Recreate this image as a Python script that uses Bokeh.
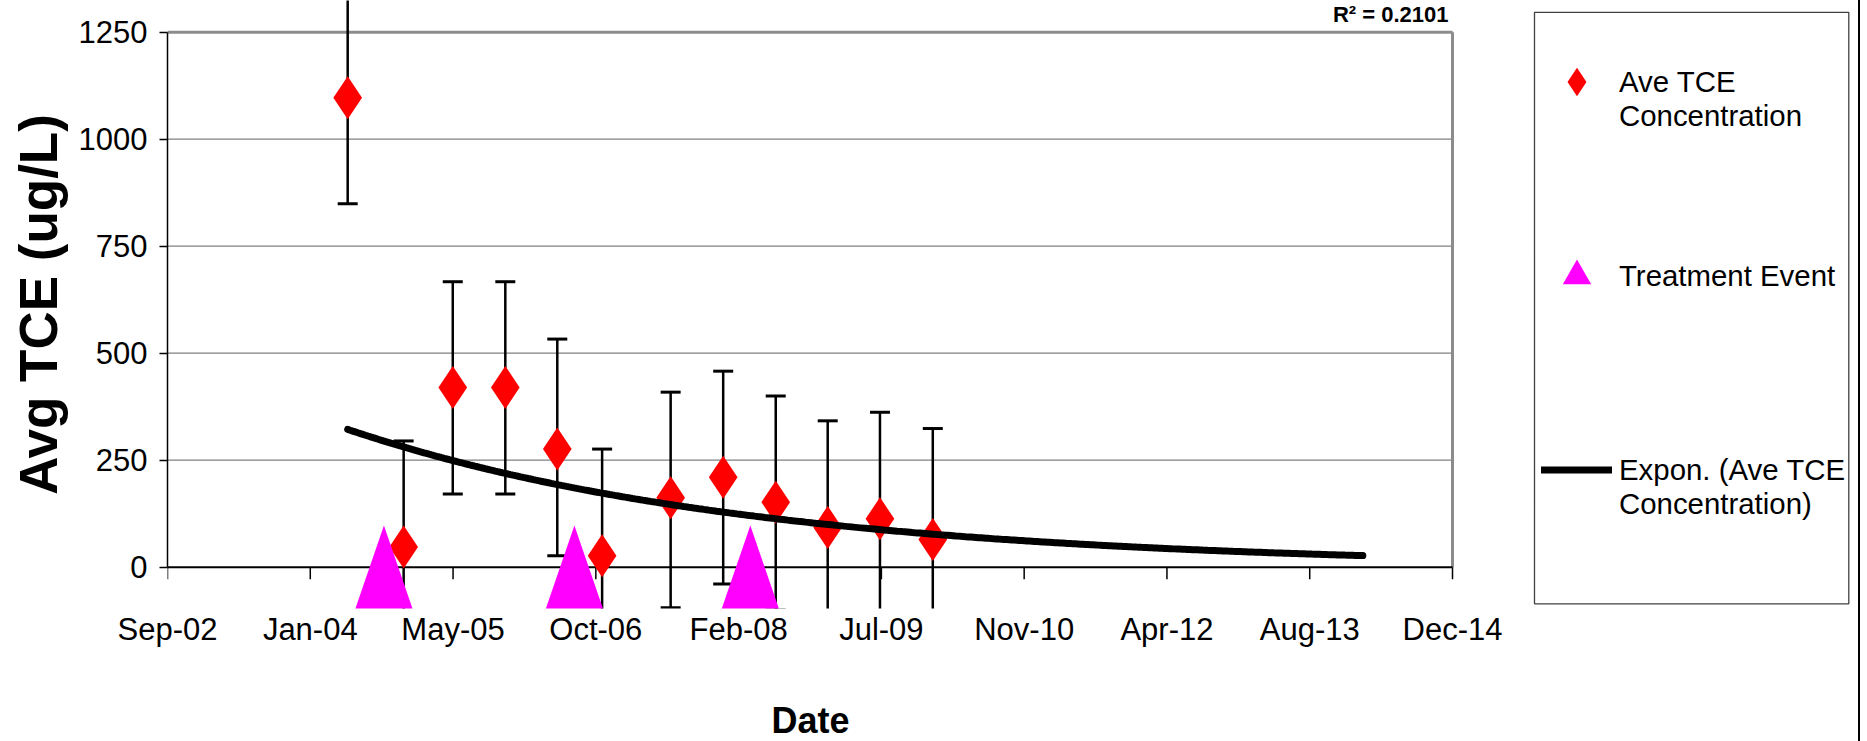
import numpy as np
import pandas as pd
from bokeh.plotting import figure
from bokeh.models import (Range1d, FixedTicker, DatetimeTickFormatter, Legend, LegendItem,
                          ColumnDataSource, Label, Title)
from bokeh.embed import file_html
from bokeh.resources import INLINE

# ---------------- data ----------------
sample_dates = ["2004-05-24", "2004-12-06", "2005-05-27", "2005-11-27", "2006-05-28", "2006-11-01",
                "2007-06-29", "2007-12-30", "2008-07-01", "2008-12-30", "2009-07-01", "2010-01-02"]
ave_tce = [1097, 47, 420, 420, 276, 27, 162, 210, 152, 93, 113, 65]
err_plus = [250, 248, 247, 247, 257, 249, 247, 248, 248, 249, 249, 259]
err_minus = [248, 248, 249, 249, 249, 249, 257, 249, 252, 250, 250, 259]

treatment_dates = ["2004-09-28", "2006-07-27", "2008-04-03"]
treatment_values = [0, 0, 0]

trend_end_date = "2014-02-16"      # end of the forward-forecast exponential trendline
r2_text = "R² = 0.2101"

x_tick_dates = ["2002-09-01", "2004-01-14", "2005-05-28", "2006-10-10", "2008-02-22",
                "2009-07-06", "2010-11-18", "2012-04-01", "2013-08-14", "2014-12-27"]
x_tick_labels = ["Sep-02", "Jan-04", "May-05", "Oct-06", "Feb-08",
                 "Jul-09", "Nov-10", "Apr-12", "Aug-13", "Dec-14"]
y_ticks = [0, 250, 500, 750, 1000, 1250]

legend_labels = ["\nAve TCE\nConcentration", "Treatment Event", "\nExpon. (Ave TCE\nConcentration)"]


def to_ms(dates):
    return pd.to_datetime(dates).values.astype("datetime64[ms]").astype("int64").astype(float)


x_ms = to_ms(sample_dates)
treat_ms = to_ms(treatment_dates)
tick_ms = to_ms(x_tick_dates)
trend_end_ms = to_ms([trend_end_date])[0]

# ---------------- layout constants (pixels) ----------------
LEFT = 167                 # frame left edge = first x tick
FRAME_W, FRAME_H = 1691, 608
AXIS_PX = 1285             # pixels between first and last x tick
ZERO_PX = 566.7            # pixel row of value 0
PX_PER_UNIT = 0.428

X0, X1 = tick_ms[0], tick_ms[-1]
px_per_ms = AXIS_PX / (X1 - X0)
Y_TOP = ZERO_PX / PX_PER_UNIT
Y_BOT = Y_TOP - FRAME_H / PX_PER_UNIT
Y_MAX = y_ticks[-1]


def x_of(px):
    return X0 + (px - LEFT) / px_per_ms


def y_of(py):
    return Y_TOP - py / PX_PER_UNIT


FONT = "Liberation Sans"

p = figure(x_axis_type="datetime",
           x_range=Range1d(X0, X0 + FRAME_W / px_per_ms),
           y_range=Range1d(Y_BOT, Y_TOP),
           frame_width=FRAME_W, frame_height=FRAME_H,
           min_border_left=LEFT, min_border_right=0, min_border_top=0, min_border_bottom=741 - FRAME_H,
           output_backend="svg", toolbar_location=None, title=None,
           background_fill_color="white", border_fill_color="white", outline_line_color=None)
p.styles = {"border-right": "2px solid black"}

p.xgrid.visible = False
p.ygrid.visible = False

# y axis
yax = p.yaxis[0]
yax.ticker = FixedTicker(ticks=y_ticks)
yax.bounds = (y_ticks[0], y_ticks[-1])
yax.axis_line_color = "black"
yax.axis_line_width = 1.5
yax.major_tick_out = 8
yax.major_tick_in = 0
yax.major_tick_line_width = 1.5
yax.minor_tick_line_color = None
yax.major_label_text_font = FONT
yax.major_label_text_font_size = "31px"
yax.major_label_text_color = "black"
yax.major_label_standoff = 12
yax.axis_label = "Avg TCE (ug/L)"
yax.axis_label_text_font = FONT
yax.axis_label_text_font_style = "bold"
yax.axis_label_text_font_size = "53px"
yax.axis_label_text_color = "black"
yax.axis_label_standoff = 8

# x axis (labels only; the visible axis line sits at y = 0)
xax = p.xaxis[0]
xax.ticker = FixedTicker(ticks=list(tick_ms))
fmt = "%b-%y"
xax.formatter = DatetimeTickFormatter(days=fmt, months=fmt, years=fmt, hours=fmt, hourmin=fmt,
                                      minutes=fmt, minsec=fmt, seconds=fmt, milliseconds=fmt,
                                      microseconds=fmt)
xax.major_label_overrides = {float(t): lab for t, lab in zip(tick_ms, x_tick_labels)}
xax.axis_line_color = None
xax.major_tick_line_color = None
xax.major_tick_out = 0
xax.major_tick_in = 0
xax.minor_tick_line_color = None
xax.major_label_standoff = 3
xax.major_label_text_font = FONT
xax.major_label_text_font_size = "31px"
xax.major_label_text_color = "black"

# x axis title, centred under the plot area (the frame also holds the legend)
p.add_layout(Title(text="\nDate", align="left", offset=771 - LEFT, vertical_align="bottom",
                   standoff=14, text_font=FONT, text_font_style="bold", text_font_size="36px",
                   text_color="black"), "below")

# horizontal grid lines inside the plot area
p.segment(x0=[X0] * (len(y_ticks) - 1), y0=y_ticks[1:], x1=[X1] * (len(y_ticks) - 1), y1=y_ticks[1:],
          line_color="#808080", line_width=1.3)
# plot-area border (top and right, gray)
p.segment(x0=[X0, X1], y0=[Y_MAX, 0], x1=[X1, X1], y1=[Y_MAX, Y_MAX],
          line_color="#8c8c8c", line_width=3)
# x axis line and its tick marks
p.segment(x0=[X0], y0=[0], x1=[X1], y1=[0], line_color="black", line_width=2)
tick_len = 12 / PX_PER_UNIT
p.segment(x0=list(tick_ms), y0=[0] * len(tick_ms), x1=list(tick_ms), y1=[-tick_len] * len(tick_ms),
          line_color="black", line_width=1.5)

# error bars
hi = [v + e for v, e in zip(ave_tce, err_plus)]
lo = [v - e for v, e in zip(ave_tce, err_minus)]
src = ColumnDataSource(dict(x=x_ms, y=ave_tce, hi=hi, lo=lo))
p.segment(x0="x", y0="lo", x1="x", y1="hi", source=src, line_color="black", line_width=2.5)
p.scatter("x", "hi", source=src, marker="dash", size=20, line_width=3, line_color="black")
p.scatter("x", "lo", source=src, marker="dash", size=20, line_width=3, line_color="black")

# Ave TCE diamonds
diam = p.scatter("x", "y", source=src, marker="diamond", size=43,
                 fill_color="#FF0000", line_color=None)

# treatment events (tall triangles, 57 x 83 px)
hw = 28.7 / px_per_ms
hh = 41.7 / PX_PER_UNIT
tri_xs = [[t - hw, t, t + hw] for t in treat_ms]
tri_ys = [[v - hh, v + hh, v - hh] for v in treatment_values]
p.patches(tri_xs, tri_ys, fill_color="#FF00FF", line_color=None)
tri_leg = p.scatter(treat_ms, treatment_values, marker="triangle", size=0,
                    fill_color="#FF00FF", line_color=None)

# exponential trendline fitted to the data (Excel "Expon." style: ln y linear in x)
xd = x_ms / 86400000.0
b, a = np.polyfit(xd, np.log(ave_tce), 1)
tx = np.linspace(xd[0], trend_end_ms / 86400000.0, 400)
ty = np.exp(a + b * tx)
trend = p.line(tx * 86400000.0, ty, line_color="black", line_width=7, line_cap="round")

# legend frame (drawn as a box, the legend itself has no border)
p.quad(left=[x_of(1534)], right=[x_of(1848.3)], top=[y_of(11.8)], bottom=[y_of(603.3)],
       fill_color=None, line_color="#404040", line_width=1.3)

# R² label (cut off at the top in the original)
p.add_layout(Label(x=x_of(1448), y=y_of(1), text=r2_text,
                   text_align="right", text_baseline="top", text_font=FONT,
                   text_font_style="bold", text_font_size="22px", text_color="black"))

PAD, ROW, GAP, GW = 8, 125, 69, 71
legend_h = 2 * PAD + 3 * ROW + 2 * GAP
legend_top = 81.8 - PAD - ROW / 2 - 8
legend = Legend(items=[LegendItem(label=legend_labels[0], renderers=[diam]),
                       LegendItem(label=legend_labels[1], renderers=[tri_leg]),
                       LegendItem(label=legend_labels[2], renderers=[trend])],
                location=(int(round(1542.7 - PAD - LEFT + 6)), int(round(FRAME_H - legend_top - legend_h))),
                orientation="vertical",
                glyph_width=GW, glyph_height=ROW, label_height=ROW, label_standoff=7,
                padding=PAD, spacing=GAP, margin=0,
                label_text_font=FONT, label_text_font_size="29.4px", label_text_color="black",
                border_line_color=None, background_fill_color=None, inactive_fill_alpha=0)
p.add_layout(legend)

open("out.html", "w").write(file_html(p, INLINE))
